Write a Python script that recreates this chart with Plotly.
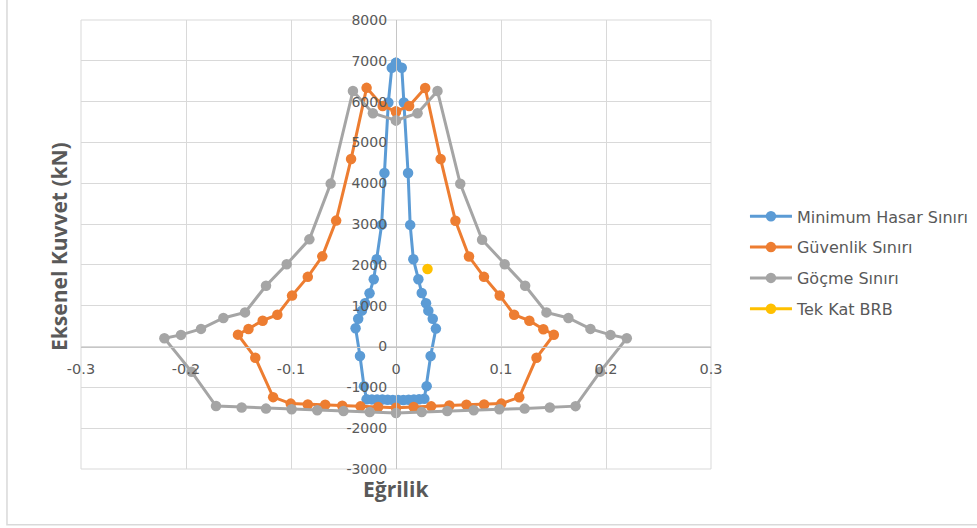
import plotly.graph_objects as go

# Interaction diagrams: curvature (x) vs axial force in kN (y)
mh_x = [0.0, 0.0055, 0.0075, 0.0115, 0.0135, 0.0165, 0.0213, 0.0245, 0.0286, 0.0308, 0.0350, 0.0380,
        0.0330, 0.0292, 0.0270, 0.0220, 0.0170, 0.0120, 0.0070, 0.0020, -0.0030, -0.0080, -0.0130,
        -0.0180, -0.0230, -0.0280, -0.0305, -0.0343, -0.0385, -0.0360, -0.0325, -0.0295, -0.0252,
        -0.0212, -0.0184, -0.0137, -0.0110, -0.0073, -0.0040, 0.0]
mh_y = [6950, 6830, 5980, 4250, 2980, 2140, 1650, 1310, 1060, 880, 680, 440,
        -230, -970, -1280, -1290, -1300, -1305, -1310, -1310, -1310, -1305, -1300,
        -1300, -1295, -1290, -970, -230, 450, 680, 880, 1060, 1305,
        1650, 2140, 2980, 4250, 5980, 6830, 6950]

gv_x = [0.0, 0.0125, 0.0278, 0.0425, 0.0566, 0.0695, 0.0838, 0.0988, 0.1125, 0.1270, 0.1403, 0.1503,
        0.1338, 0.1174, 0.1003, 0.0839, 0.0671, 0.0508, 0.0335, 0.0168, 0.0,
        -0.0170, -0.0338, -0.0512, -0.0674, -0.0840, -0.1003, -0.1170, -0.1340, -0.1505,
        -0.1405, -0.1270, -0.1130, -0.0990, -0.0840, -0.0702, -0.0570, -0.0428, -0.0280, -0.0127, 0.0]
gv_y = [5760, 5895, 6335, 4593, 3080, 2205, 1707, 1252, 780, 634, 425, 290,
        -276, -1244, -1398, -1420, -1425, -1445, -1465, -1480, -1500,
        -1480, -1465, -1450, -1425, -1420, -1398, -1240, -276, 292,
        430, 634, 780, 1248, 1707, 2210, 3085, 4593, 6338, 5895, 5760]

gc_x = [0.0, 0.0205, 0.0395, 0.0612, 0.0820, 0.1035, 0.1230, 0.1433, 0.1642, 0.1852, 0.2043, 0.2198,
        0.1945, 0.1710, 0.1465, 0.1225, 0.0984, 0.0740, 0.0488, 0.0245, 0.0,
        -0.0250, -0.0500, -0.0750, -0.0994, -0.1238, -0.1470, -0.1714, -0.1946, -0.2206,
        -0.2048, -0.1857, -0.1644, -0.1438, -0.1238, -0.1041, -0.0825, -0.0622, -0.0410, -0.0220, 0.0]
gc_y = [5540, 5715, 6260, 3988, 2618, 2017, 1488, 837, 700, 432, 285, 202,
        -615, -1460, -1495, -1520, -1536, -1560, -1578, -1602, -1627,
        -1602, -1578, -1560, -1536, -1520, -1495, -1458, -620, 202,
        285, 432, 700, 837, 1488, 2017, 2626, 3992, 6260, 5715, 5540]

brb_x = [0.030]
brb_y = [1900]

# Axis ticks (labels written with a plain hyphen for negatives)
x_ticks = [-0.3, -0.2, -0.1, 0.0, 0.1, 0.2, 0.3]
x_tick_labels = ["-0.3", "-0.2", "-0.1", "0", "0.1", "0.2", "0.3"]
y_ticks = [-3000, -2000, -1000, 0, 1000, 2000, 3000, 4000, 5000, 6000, 7000, 8000]
y_tick_labels = ["-3000", "-2000", "-1000", "0", "1000", "2000", "3000", "4000",
                 "5000", "6000", "7000", "8000"]

series = [
    ("Minimum Hasar Sınırı", mh_x, mh_y, "#5B9BD5"),
    ("Güvenlik Sınırı", gv_x, gv_y, "#ED7D31"),
    ("Göçme Sınırı", gc_x, gc_y, "#A5A5A5"),
    ("Tek Kat BRB", brb_x, brb_y, "#FFC000"),
]

TXT = "#595959"
GRID = "#D9D9D9"

fig = go.Figure()
for i, (name, xs, ys, col) in enumerate(series):
    fig.add_trace(go.Scatter(
        x=xs, y=ys, name=name, mode="lines+markers", legendgroup=str(i),
        line=dict(color=col, width=3),
        marker=dict(color=col, size=10.5, symbol="circle"),
    ))

fig.update_layout(
    width=977, height=528,
    margin=dict(l=81, r=266, t=18, b=59),
    paper_bgcolor="white", plot_bgcolor="white",
    font=dict(family="DejaVu Sans", color=TXT, size=14),
    showlegend=True,
    legend=dict(xref="container", x=0.7625, y=0.459, xanchor="left", yanchor="middle",
                font=dict(family="DejaVu Sans", size=16, color=TXT),
                tracegroupgap=7, itemwidth=42, bgcolor="rgba(0,0,0,0)"),
    xaxis=dict(range=[-0.3, 0.3], tickvals=x_ticks, ticktext=x_tick_labels,
               anchor="free", position=3000 / 11000,
               showgrid=True, gridcolor=GRID, gridwidth=1, zeroline=False,
               showline=True, linecolor="#C6C6C6", linewidth=1.2, ticks="",
               ticklabelstandoff=9, tickfont=dict(size=14.5, color=TXT)),
    yaxis=dict(range=[-3000, 8000], tickvals=y_ticks, ticktext=y_tick_labels,
               anchor="free", position=0.5,
               showgrid=True, gridcolor=GRID, gridwidth=1, zeroline=False,
               showline=True, linecolor="#C6C6C6", linewidth=1.2, ticks="",
               ticklabelstandoff=6, tickfont=dict(size=14, color=TXT)),
    shapes=[
        # plot-area frame
        dict(type="rect", xref="x domain", yref="y domain", x0=0, x1=1, y0=0, y1=1,
             line=dict(color=GRID, width=1), layer="below"),
        # chart-area border
        dict(type="rect", xref="paper", yref="paper", x0=-0.1175, x1=2.0, y0=-0.1242, y1=2.0,
             line=dict(color=GRID, width=1.5), layer="below"),
    ],
    annotations=[
        dict(text="<b>Eğrilik</b>", xref="paper", yref="paper", x=0.5, y=-0.0443,
             xanchor="center", yanchor="middle", showarrow=False,
             font=dict(family="Open Sans", size=21, color=TXT)),
        dict(text="<b>Eksenel Kuvvet (kN)</b>", xref="paper", yref="paper", x=-0.0350, y=0.4967,
             xanchor="center", yanchor="middle", textangle=-90, showarrow=False,
             font=dict(family="Open Sans", size=21, color=TXT)),
    ],
)

fig.write_html("out.html")
